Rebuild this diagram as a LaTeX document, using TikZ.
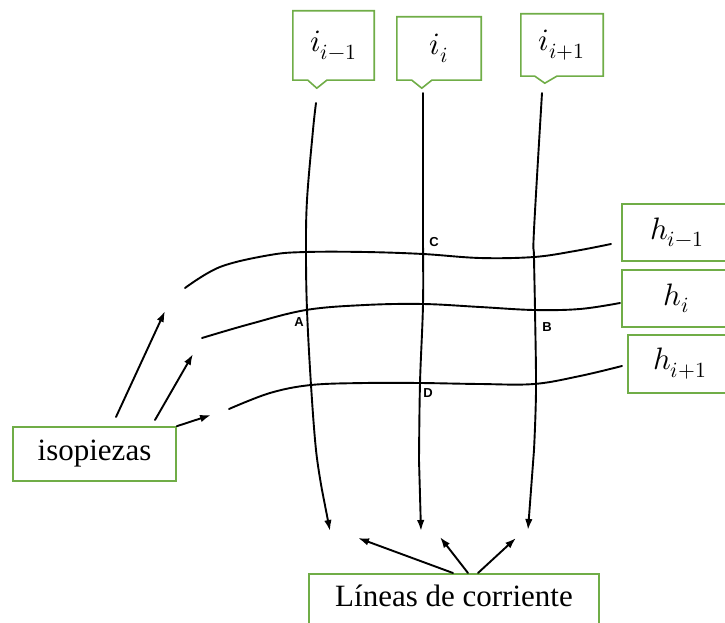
\documentclass[tikz,border=0pt]{standalone}
\usepackage{fontspec}
\usepackage{unicode-math}
\setmainfont{Liberation Serif}
\setmathfont{Latin Modern Math}
\newfontfamily\lettfont{Liberation Sans}
\usetikzlibrary{arrows.meta}

\definecolor{boxgreen}{RGB}{112,173,71}

\tikzset{
  greenbox/.style={draw=boxgreen, line width=1.6pt, fill=white, inner sep=0pt},
  calltext/.style={inner sep=0pt, font=\fontsize{31}{35}\selectfont},
  mathlbl/.style={font=\fontsize{31}{35}\selectfont},
  plaintxt/.style={inner sep=0pt, font=\fontsize{31}{36}\selectfont},
  calloutline/.style={draw=boxgreen, line width=1.6pt, fill=white, line join=miter},
  flowline/.style={line width=1.9pt, line cap=round},
  tip/.style={-{Latex[length=11pt,width=7.5pt]}},
  ptlbl/.style={inner sep=0pt, font=\lettfont\bfseries\fontsize{13}{14}\selectfont},
}

\begin{document}
\begin{tikzpicture}[x=1pt, y=-1pt]
\useasboundingbox (0,0) rectangle (725,623);
\clip (0,0) rectangle (725,623);

% equipotential lines (isopiezas)
\draw[flowline] plot[smooth, tension=0.6] coordinates
  {(185,288) (220,267) (270,255) (306,252) (365,252) (423,254) (480,258) (534,257) (575,251) (611,244)};
\draw[flowline] plot[smooth, tension=0.6] coordinates
  {(202,338) (250,324) (306,310) (365,305) (423,304) (480,307) (534,310) (580,309) (620,303)};
\draw[flowline] plot[smooth, tension=0.6] coordinates
  {(229,409) (270,393) (311,385) (365,383) (420,383) (480,384) (534,384) (580,376) (622,366)};

% flow lines (lineas de corriente)
\coordinate (ta) at (330,531);
\coordinate (tb) at (421,531);
\coordinate (tc) at (528,530);
\draw[flowline, tip] plot[smooth, tension=0.6] coordinates
  {(316,103) (313,130) (307,200) (306,252) (307,310) (311,385) (316,450) (322,490)} -- (ta);
\draw[flowline, tip] plot[smooth, tension=0.6] coordinates
  {(423,93) (423,230) (423,304) (420,383) (419,460)} -- (tb);
\draw[flowline, tip] plot[smooth, tension=0.6] coordinates
  {(542,93) (534,230) (534,257) (535,310) (536,390) (534,450)} -- (tc);

% intersection labels
\node[ptlbl] (pA) at (299,322) {A};
\node[ptlbl] (pB) at (547,327) {B};
\node[ptlbl] (pC) at (434,242) {C};
\node[ptlbl] (pD) at (428,393) {D};

% callouts above the flow lines
\node[calltext, minimum width=81pt, minimum height=69pt] (ia) at (333.5,45.5) {};
\draw[calloutline] (ia.south east) -- (ia.north east) -- (ia.north west) -- (ia.south west)
  -- ++(15,0) -- ++(9,8) -- ++(10,-8) -- cycle;
\node[calltext] (iaT) at (ia.center) {$i_{i-1}$};

\node[calltext, minimum width=84pt, minimum height=63pt] (ib) at (439,48.5) {};
\draw[calloutline] (ib.south east) -- (ib.north east) -- (ib.north west) -- (ib.south west)
  -- ++(15,0) -- ++(10,8) -- ++(10,-8) -- cycle;
\node[calltext] (ibT) at (ib.center) {$i_{i}$};

\node[calltext, minimum width=82pt, minimum height=62pt] (ic) at (562,45) {};
\draw[calloutline] (ic.south east) -- (ic.north east) -- (ic.north west) -- (ic.south west)
  -- ++(14,0) -- ++(10,7) -- ++(12,-7) -- cycle;
\node[calltext] (icT) at (ic.center) {$i_{i+1}$};

% head boxes on the right
\node[greenbox, mathlbl, anchor=north west, minimum width=110pt, minimum height=57pt] (ha) at (621,203) {$h_{i-1}$};
\node[greenbox, mathlbl, anchor=north west, minimum width=110pt, minimum height=57pt] (hb) at (621,269) {$h_{i}$};
\node[greenbox, mathlbl, anchor=north west, minimum width=104pt, minimum height=58pt] (hc) at (627,334) {$h_{i+1}$};

% isopiezas box and its arrows
\node[greenbox, plaintxt, minimum width=163pt, minimum height=54pt] (iso) at (94.5,454) {isopiezas};
\coordinate (ea) at (165,311);
\coordinate (eb) at (193,354);
\coordinate (ec) at (211,415);
\draw[flowline, tip] ([xshift=21.5pt, yshift=37pt]iso.center) -- (ea);
\draw[flowline, tip] ([xshift=60.5pt, yshift=34pt]iso.center) -- (eb);
\draw[flowline, tip] (iso.north east) -- (ec);

% lineas de corriente box and its arrows
\node[greenbox, anchor=north west, minimum width=290pt, minimum height=80pt] (lin) at (308,573) {};
\node[plaintxt] (linT) at (454,596) {Líneas de corriente};
\coordinate (fa) at (358,538);
\coordinate (fb) at (440,537);
\coordinate (fc) at (516,538);
\draw[flowline, tip] ([xshift=145pt]lin.north west) -- (fa);
\draw[flowline, tip] ([xshift=160pt]lin.north west) -- (fb);
\draw[flowline, tip] ([xshift=170pt]lin.north west) -- (fc);
\end{tikzpicture}
\end{document}
